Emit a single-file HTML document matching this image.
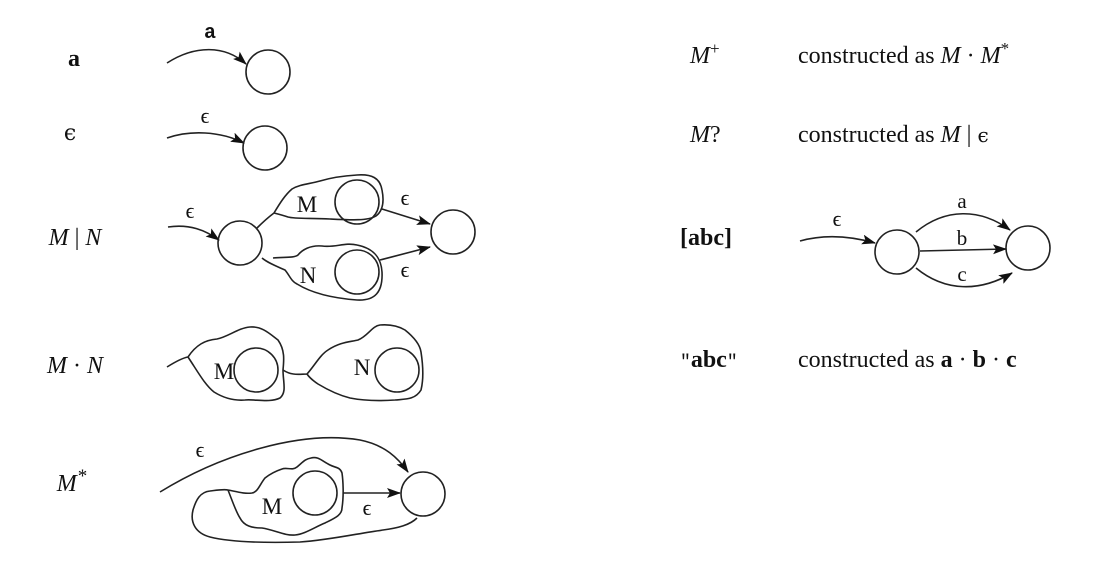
<!DOCTYPE html>
<html><head><meta charset="utf-8"><style>
html,body{margin:0;padding:0;background:#fff;}
svg{display:block;}
text{font-family:"Liberation Serif",serif;fill:#111;}
.i{font-style:italic;}
.b{font-weight:bold;}
</style></head><body>
<svg width="1106" height="574" viewBox="0 0 1106 574" xmlns="http://www.w3.org/2000/svg">
<defs>
<marker id="ar" viewBox="0 0 14 10" refX="13" refY="5" markerWidth="14" markerHeight="10" markerUnits="userSpaceOnUse" orient="auto">
<path d="M0,0 L14,5 L0,10 L3,5 Z" fill="#111"/>
</marker>
</defs>
<g fill="none" stroke="#222" stroke-width="1.6">
<path d="M167,63 C195,45 225,45 246,64" marker-end="url(#ar)"/>
<circle cx="268" cy="72" r="22"/>
<path d="M167,138 C190,130 220,131 244,143" marker-end="url(#ar)"/>
<circle cx="265" cy="148" r="22"/>
<path d="M168,227 C190,224 205,230 219,240" marker-end="url(#ar)"/>
<circle cx="240" cy="243" r="22"/>
<circle cx="357" cy="202" r="22"/>
<circle cx="357" cy="272" r="22"/>
<circle cx="453" cy="232" r="22"/>
<path d="M257,228 C265,220 270,216 274,213 C280,203 285,195 292,189 C300,184 310,184 320,181 C330,178 340,176 357,175 C372,174 380,178 382,190 C384,200 384,210 376,216 C368,221 350,220 330,219 C310,218 295,219 288,217 C282,215 278,214 274,213"/>
<path d="M262,258 C268,263 276,266 285,270 C290,276 291,281 297,284 C310,292 330,298 357,300 C375,301 383,292 382,272 C381,256 372,248 357,245 C345,242 335,248 322,246 C310,245 302,250 298,255 C294,258 285,257 273,258"/>
<path d="M382,209 L430,224" marker-end="url(#ar)"/>
<path d="M380,260 L430,247" marker-end="url(#ar)"/>
<circle cx="256" cy="370" r="22"/>
<circle cx="397" cy="370" r="22"/>
<path d="M167,367 C175,362 182,358 188,357 C196,345 205,340 217,339 C228,337 238,328 250,327 C262,326 270,334 278,340 C285,350 284,360 283,370 C283,382 287,392 280,398 C270,403 255,399 245,400 C232,401 222,397 214,392 C205,385 198,372 188,357"/>
<path d="M283,370 C292,376 300,374 307,374 C315,365 320,355 328,350 C340,342 350,342 358,340 C368,336 372,326 380,325 C392,324 400,327 405,330 C415,338 420,345 421,352 C423,365 424,378 421,390 C415,400 405,399 395,400 C380,401 365,401 350,398 C338,395 328,390 318,384 C312,380 309,377 307,374"/>
<circle cx="423" cy="494" r="22"/>
<circle cx="315" cy="493" r="22"/>
<path d="M160,492 C220,455 300,430 360,440 C385,445 398,458 408,472" marker-end="url(#ar)"/>
<path d="M343,493 L400,493" marker-end="url(#ar)"/>
<path d="M228,490 C232,500 236,512 240,518 C244,526 252,528 262,528 C275,530 285,536 295,535 C305,534 315,527 325,523 C335,518 342,515 342,508 C344,495 343,480 342,473 C340,467 336,468 330,465 C322,461 318,456 311,458 C305,459 303,462 297,467 C292,471 287,467 282,469 C276,471 270,474 265,478 C260,484 258,492 252,493 C245,494 238,492 228,490"/>
<path d="M417,518 C410,525 398,528 383,530 C360,533 330,540 300,542 C265,543 230,542 210,537 C195,533 190,522 193,510 C196,500 200,492 210,491 C218,490 224,489 228,490"/>
<path d="M800,241 C825,234 850,236 875,243" marker-end="url(#ar)"/>
<circle cx="897" cy="252" r="22"/>
<circle cx="1028" cy="248" r="22"/>
<path d="M916,232 C945,208 980,208 1010,230" marker-end="url(#ar)"/>
<path d="M920,251 L1006,249" marker-end="url(#ar)"/>
<path d="M916,268 C945,292 980,292 1012,273" marker-end="url(#ar)"/>
</g>
<text x="210" y="38" text-anchor="middle" style="font-family:'Liberation Mono',monospace;font-weight:bold;font-size:20px;">a</text>
<g style="font-family:'DejaVu Sans',sans-serif;font-size:22px;" text-anchor="middle">
<text x="205" y="123">ϵ</text>
<text x="190" y="218">ϵ</text>
<text x="405" y="205">ϵ</text>
<text x="405" y="277">ϵ</text>
<text x="200" y="457">ϵ</text>
<text x="367" y="515">ϵ</text>
<text x="837" y="226">ϵ</text>
</g>
<g style="font-size:23px;" text-anchor="middle">
<text x="307" y="212">M</text>
<text x="308" y="283">N</text>
<text x="224" y="379">M</text>
<text x="362" y="375">N</text>
<text x="272" y="514">M</text>
<text x="962" y="208" style="font-size:21px">a</text>
<text x="962" y="245" style="font-size:21px">b</text>
<text x="962" y="281" style="font-size:21px">c</text>
</g>
<g style="font-size:24px;" text-anchor="middle">
<text x="74" y="66" class="b">a</text>
<text x="70" y="140" style="font-family:'DejaVu Serif',serif;font-size:22px">ϵ</text>
<text x="75" y="245"><tspan class="i">M</tspan> | <tspan class="i">N</tspan></text>
<text x="75" y="373"><tspan class="i">M</tspan> · <tspan class="i">N</tspan></text>
<text x="72" y="491"><tspan class="i">M</tspan><tspan dx="1" dy="-9" font-size="19">*</tspan></text>
</g>
<g style="font-size:24px;">
<text x="690" y="63"><tspan class="i">M</tspan><tspan dy="-9" font-size="17">+</tspan></text>
<text x="798" y="63">constructed as <tspan class="i">M</tspan> · <tspan class="i">M</tspan><tspan dy="-9" font-size="17">*</tspan></text>
<text x="690" y="142"><tspan class="i">M</tspan>?</text>
<text x="798" y="142">constructed as <tspan class="i">M</tspan> | <tspan style="font-family:'DejaVu Serif',serif;font-size:20px">ϵ</tspan></text>
<text x="680" y="245" class="b">[abc]</text>
<text x="680" y="367"><tspan style="font-family:'Liberation Mono',monospace;font-size:18px">"</tspan><tspan class="b">abc</tspan><tspan style="font-family:'Liberation Mono',monospace;font-size:18px">"</tspan></text>
<text x="798" y="367">constructed as <tspan class="b">a</tspan> · <tspan class="b">b</tspan> · <tspan class="b">c</tspan></text>
</g>
</svg>
</body></html>
